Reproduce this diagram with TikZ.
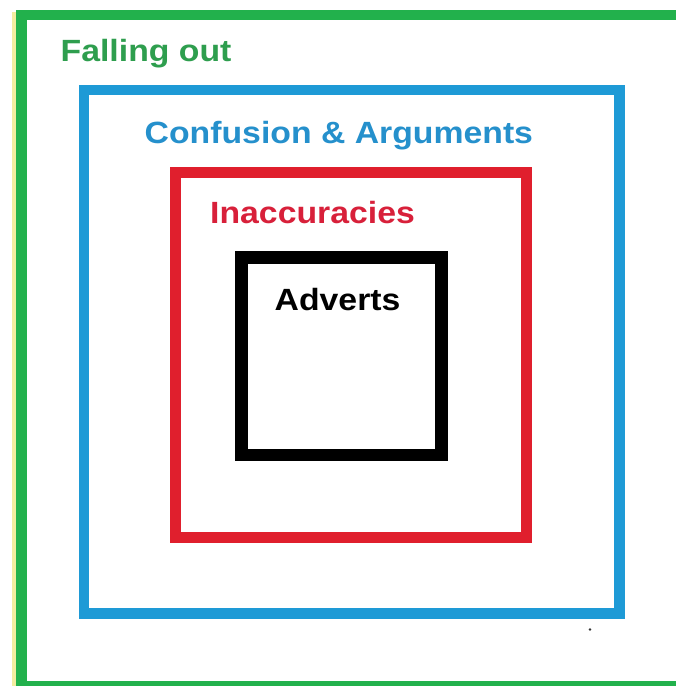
\documentclass[tikz,border=0pt]{standalone}
\usepackage{fontspec}
\newfontfamily\lab[FakeStretch=1.1]{Liberation Sans Bold}
\definecolor{cgreen}{HTML}{22B14C}
\definecolor{cgreentxt}{HTML}{2E9E4E}
\definecolor{cblue}{HTML}{1E9AD6}
\definecolor{cbluetxt}{HTML}{2590CC}
\definecolor{cred}{HTML}{E01F2D}
\definecolor{credtxt}{HTML}{D8203A}
\definecolor{cyellow}{HTML}{F2EDA0}
\begin{document}
\begin{tikzpicture}[x=1pt,y=-1pt,
  frame/.style={draw=#1, rectangle, inner sep=0pt, outer sep=0pt, anchor=north west},
  lbl/.style={text=#1, anchor=base west, inner sep=0pt, font=\lab\fontsize{30.7}{34}\selectfont}]
\useasboundingbox (0,0) rectangle (676,686);
\clip (0,0) rectangle (676,686);
\fill[white] (0,0) rectangle (676,686);
% faint yellow edge at left
\draw[cyellow, line width=4pt] (14,12) -- (14,690);
% outer green frame (extends beyond right and bottom edges)
\node[frame=cgreen, line width=10.5pt, minimum width=680pt, minimum height=671pt] (fall) at (21.5,15) {};
\node[frame=cblue, line width=10.5pt, minimum width=535.5pt, minimum height=523.5pt] (conf) at (84,90) {};
\node[frame=cred, line width=11pt, minimum width=350.5pt, minimum height=364.5pt] (inac) at (175.5,172.5) {};
\node[frame=black, line width=12.5pt, minimum width=200pt, minimum height=197.5pt] (adv) at (241.5,257.5) {};
\node[lbl=cgreentxt] (tfall) at (60.5,61.5) {Falling out};
\node[lbl=cbluetxt] (tconf) at (144.5,143.5) {Confusion \& Arguments};
\node[lbl=credtxt] (tinac) at (210,223) {Inaccuracies};
\node[lbl=black] (tadv) at (274.5,310) {Adverts};
\fill[black!80] (590,629.5) circle (1.4pt);
\end{tikzpicture}
\end{document}
